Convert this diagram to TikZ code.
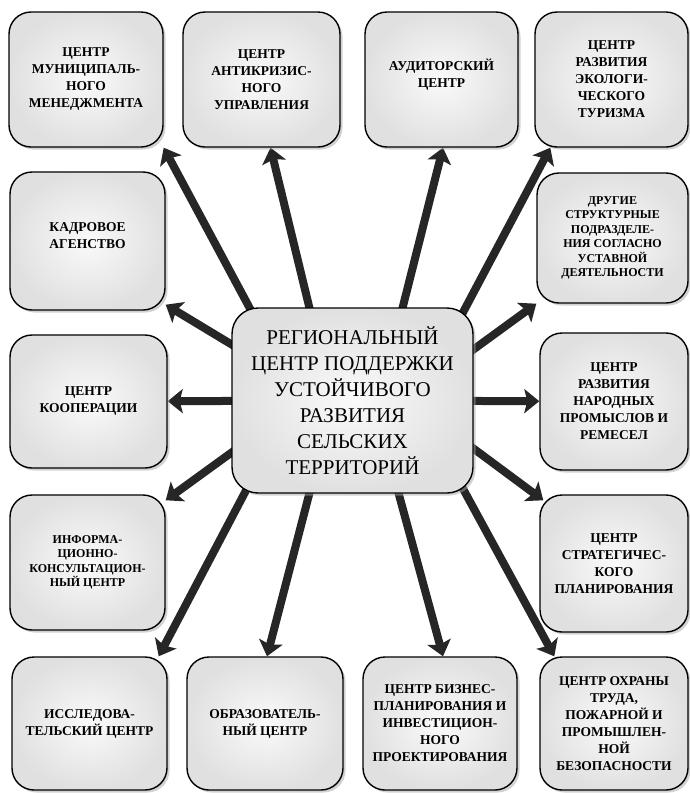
\documentclass[tikz,border=0pt]{standalone}
\usepackage{fontspec}
\setmainfont{Liberation Serif}
\usetikzlibrary{arrows.meta,shadows,backgrounds}

\tikzset{
  unit/.style={draw=black, line width=1.4pt, rounded corners=22pt,
    inner color=gray!4, outer color=gray!24,
    drop shadow={shadow xshift=2.5pt, shadow yshift=-2.5pt, fill=black!35},
    align=center, minimum height=135pt,
    font=\bfseries\fontsize{13.5}{17}\selectfont},
  smallunit/.style={unit, font=\bfseries\fontsize{12}{14.5}\selectfont},
  hubbox/.style={unit, rounded corners=26pt, minimum width=241pt, minimum height=185pt,
    font=\fontsize{21}{26}\selectfont},
  spoke/.style={line width=8pt, draw=black!85, shorten <=-14pt,
    -{Stealth[length=15pt, width=24pt, inset=3pt]}}
}

\begin{document}
\begin{tikzpicture}[x=1pt, y=-1pt]
\useasboundingbox (0,0) rectangle (689,793);
% Top row
\node [unit, minimum width=154pt] (mun) at (86,79.5) {ЦЕНТР\\МУНИЦИПАЛЬ-\\НОГО\\МЕНЕДЖМЕНТА};
\node [unit, minimum width=157pt] (krizis) at (261.5,79.5) {ЦЕНТР\\АНТИКРИЗИС-\\НОГО\\УПРАВЛЕНИЯ};
\node [unit, minimum width=153pt] (audit) at (441.5,79.5) {АУДИТОРСКИЙ\\ЦЕНТР\\[-4pt]};
\node [unit, minimum width=153pt] (eco) at (611.5,79.5) {ЦЕНТР\\РАЗВИТИЯ\\ЭКОЛОГИ-\\ЧЕСКОГО\\ТУРИЗМА};
% Left column
\node [unit, minimum width=155pt, minimum height=138pt] (kadr) at (87.5,241) {КАДРОВОЕ\\АГЕНСТВО\\[-7pt]};
\node [unit, minimum width=157pt, minimum height=133pt] (koop) at (88.5,401.5) {ЦЕНТР\\КООПЕРАЦИИ};
\node [smallunit, minimum width=155pt] (inform) at (87.5,562.5) {ИНФОРМА-\\ЦИОННО-\\КОНСУЛЬТАЦИОН-\\НЫЙ ЦЕНТР};
% Right column
\node [smallunit, minimum width=151pt, minimum height=130pt] (drug) at (612.5,238) {ДРУГИЕ\\СТРУКТУРНЫЕ\\ПОДРАЗДЕЛЕ-\\НИЯ СОГЛАСНО\\УСТАВНОЙ\\ДЕЯТЕЛЬНОСТИ};
\node [unit, minimum width=148pt, minimum height=137pt] (narod) at (614,401.5) {ЦЕНТР\\РАЗВИТИЯ\\НАРОДНЫХ\\ПРОМЫСЛОВ И\\РЕМЕСЕЛ};
\node [unit, minimum width=148pt, minimum height=137pt] (strat) at (614,563.5) {ЦЕНТР\\СТРАТЕГИЧЕС-\\КОГО\\ПЛАНИРОВАНИЯ};
% Bottom row
\node [unit, minimum width=155pt, minimum height=133pt] (issl) at (89.5,723.5) {ИССЛЕДОВА-\\ТЕЛЬСКИЙ ЦЕНТР};
\node [unit, minimum width=156pt, minimum height=133pt] (obraz) at (265,723.5) {ОБРАЗОВАТЕЛЬ-\\НЫЙ ЦЕНТР};
\node [unit, minimum width=154pt, minimum height=133pt] (biz) at (440,723.5) {ЦЕНТР БИЗНЕС-\\ПЛАНИРОВАНИЯ И\\ИНВЕСТИЦИОН-\\НОГО\\ПРОЕКТИРОВАНИЯ};
\node [unit, minimum width=148pt, minimum height=133pt] (ohr) at (614,723.5) {ЦЕНТР ОХРАНЫ\\ТРУДА,\\ПОЖАРНОЙ И\\ПРОМЫШЛЕН-\\НОЙ\\БЕЗОПАСНОСТИ};
% Hub
\node [hubbox] (hub) at (352.5,400.5) {РЕГИОНАЛЬНЫЙ\\ЦЕНТР ПОДДЕРЖКИ\\УСТОЙЧИВОГО\\РАЗВИТИЯ\\СЕЛЬСКИХ\\ТЕРРИТОРИЙ};
% Arrows
\begin{scope}[on background layer]
\draw [spoke] ([xshift=18pt]hub.north west) -- (mun.south east);
\draw [spoke] ([xshift=78pt]hub.north west) -- ([xshift=9pt]krizis.south);
\draw [spoke] ([xshift=-71pt]hub.north east) -- ([xshift=1.5pt]audit.south);
\draw [spoke] ([xshift=-8pt]hub.north east) -- ([xshift=16pt]eco.south west);
\draw [spoke] ([yshift=-37pt]hub.north west) -- ([yshift=6pt]kadr.south east);
\draw [spoke] ([yshift=-42pt]hub.north east) -- (drug.south west);
\draw [spoke] (hub) -- (koop);
\draw [spoke] (hub) -- (narod);
\draw [spoke] ([yshift=41pt]hub.south west) -- ([yshift=-6pt]inform.north east);
\draw [spoke] ([yshift=45pt]hub.south east) -- ([xshift=4pt,yshift=-6pt]strat.north west);
\draw [spoke] ([xshift=13pt]hub.south west) -- ([xshift=-9pt]issl.north east);
\draw [spoke] ([xshift=78pt]hub.south west) -- ([xshift=2pt]obraz.north);
\draw [spoke] ([xshift=-75pt]hub.south east) -- ([xshift=3pt]biz.north);
\draw [spoke] ([xshift=-8pt]hub.south east) -- ([xshift=15pt]ohr.north west);
\end{scope}
\end{tikzpicture}
\end{document}
